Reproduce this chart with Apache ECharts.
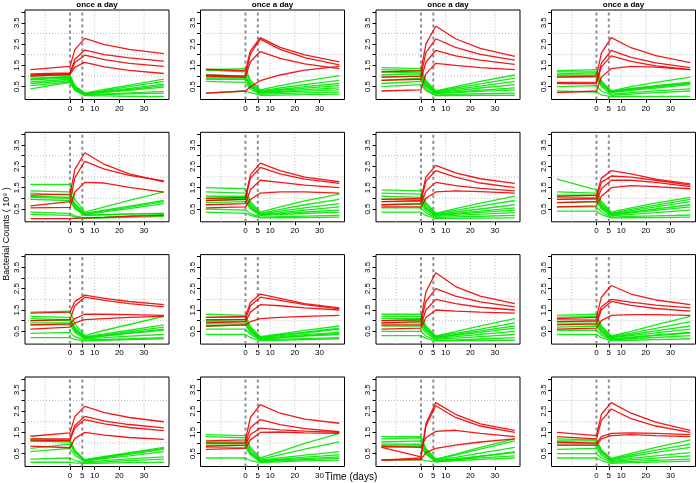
<!DOCTYPE html>
<html>
<head>
<meta charset="utf-8">
<script src="https://cdn.jsdelivr.net/npm/echarts@6/dist/echarts.min.js"></script>
<style>html,body{margin:0;padding:0;background:#fff;}#chart{width:696px;height:483px;}</style>
</head>
<body>
<div id="chart"></div>
<script>
// ---------- data ----------
const days = [-16, 0, 2, 6, 14, 24, 38];
const doseDays = [0, 5];
const xTickValues = [0, 5, 10, 20, 30];
const yTickValues = [0.5, 1, 1.5, 2, 2.5, 3, 3.5, 4];
const yLabelValues = [0.5, 1.5, 2.5, 3.5];
const xGridValues = [-10, 10, 20, 30];
const yGridValues = [1, 2, 3];
const panelTitle = 'once a day';
const xAxisName = 'Time (days)';
const yAxisName = 'Bacterial Counts ( 10\u2079 )';

const p1Red = [[1.3,1.45,2.24,2.77,2.48,2.25,2.05],[1.1,1.15,1.79,2.22,2.01,1.85,1.7],[1.05,1.12,1.64,1.98,1.77,1.6,1.45],[1.0,1.08,1.42,1.64,1.43,1.27,1.12]];
const p1Green = [[1.0,1.05,0.54,0.2,0.37,0.57,0.86],[0.9,0.95,0.49,0.18,0.32,0.5,0.75],[0.82,0.9,0.45,0.15,0.25,0.37,0.55],[0.73,0.85,0.42,0.14,0.23,0.33,0.48],[0.65,0.78,0.38,0.12,0.16,0.21,0.28],[0.55,0.72,0.35,0.1,0.13,0.16,0.2],[0.4,0.7,0.33,0.08,0.07,0.05,0.04],[0.85,1.0,0.5,0.16,0.28,0.42,0.62]];

const p2Red = [[1.32,1.25,2.18,2.8,2.35,1.99,1.67],[1.05,1.0,2.04,2.73,2.25,1.86,1.52],[1.0,0.95,1.67,2.15,1.83,1.57,1.35],[0.2,0.3,0.5,0.78,1.05,1.28,1.45]];
const p2Green = [[1.3,1.35,0.8,0.35,0.55,0.76,1.02],[1.28,1.2,0.7,0.3,0.44,0.6,0.8],[1.05,1.0,0.6,0.28,0.37,0.5,0.65],[0.95,0.95,0.55,0.25,0.33,0.43,0.55],[0.9,0.9,0.5,0.22,0.28,0.36,0.45],[0.85,0.85,0.47,0.2,0.24,0.29,0.35],[0.75,0.7,0.38,0.15,0.18,0.21,0.25],[0.2,0.3,0.22,0.1,0.11,0.13,0.15]];

const p3Red = [[1.2,1.25,2.5,3.35,2.75,2.3,1.92],[0.95,1.0,2.1,2.75,2.35,2.02,1.75],[0.8,0.85,1.65,2.2,1.95,1.75,1.55],[0.3,0.35,1.1,1.6,1.5,1.4,1.3]];
const p3Green = [[1.4,1.35,0.8,0.3,0.5,0.75,1.05],[1.3,1.25,0.72,0.28,0.44,0.63,0.9],[1.2,1.15,0.65,0.25,0.38,0.53,0.75],[1.05,1.1,0.62,0.22,0.32,0.44,0.6],[0.95,1.0,0.55,0.2,0.26,0.34,0.45],[0.8,0.9,0.5,0.18,0.22,0.28,0.35],[0.65,0.75,0.4,0.12,0.14,0.17,0.2],[0.5,0.6,0.32,0.08,0.08,0.09,0.1]];

const p4Red = [[0.95,1.0,2.08,2.8,2.33,1.96,1.63],[0.7,0.72,1.61,2.2,1.88,1.62,1.4],[0.65,0.65,1.43,1.95,1.69,1.48,1.3],[0.22,0.3,0.95,1.35,1.45,1.42,1.3]];
const p4Green = [[1.25,1.3,0.78,0.3,0.5,0.7,0.95],[1.2,1.2,0.7,0.28,0.42,0.55,0.72],[1.1,1.15,0.68,0.27,0.4,0.52,0.68],[1.05,1.05,0.62,0.25,0.37,0.49,0.65],[1.0,1.0,0.58,0.22,0.33,0.44,0.6],[0.95,0.95,0.5,0.15,0.22,0.3,0.4],[0.5,0.55,0.3,0.1,0.15,0.22,0.3],[0.3,0.25,0.12,0.03,0.04,0.04,0.05]];

const p5Red = [[1.15,1.2,2.36,3.14,2.59,2.15,1.77],[0.65,0.85,1.98,2.74,2.37,2.08,1.82],[0.55,0.58,1.3,1.75,1.72,1.52,1.29],[0.05,0.05,0.06,0.08,0.11,0.15,0.2]];
const p5Green = [[1.65,1.65,0.95,0.35,0.6,0.9,1.3],[1.35,1.3,0.75,0.3,0.45,0.64,0.9],[1.25,1.15,0.68,0.27,0.41,0.58,0.85],[1.05,1.0,0.6,0.25,0.37,0.52,0.75],[0.95,0.9,0.5,0.2,0.23,0.26,0.3],[0.35,0.3,0.18,0.08,0.12,0.18,0.25],[0.25,0.2,0.12,0.05,0.08,0.11,0.15],[1.1,1.05,0.55,0.22,0.24,0.27,0.3]];

const p6Red = [[1.0,1.05,2.1,2.65,2.3,2.0,1.78],[0.9,0.95,1.95,2.45,2.15,1.9,1.7],[0.7,0.75,1.4,1.85,1.75,1.62,1.5],[0.55,0.6,0.95,1.25,1.3,1.3,1.25]];
const p6Green = [[1.5,1.45,0.85,0.35,0.6,0.88,1.2],[1.3,1.25,0.75,0.3,0.48,0.7,0.95],[1.1,1.1,0.65,0.27,0.4,0.55,0.75],[1.0,1.0,0.58,0.24,0.33,0.45,0.6],[0.9,0.95,0.55,0.22,0.28,0.36,0.45],[0.8,0.85,0.5,0.2,0.24,0.29,0.35],[0.5,0.45,0.28,0.12,0.14,0.17,0.2],[0.35,0.3,0.2,0.08,0.09,0.1,0.12]];

const p7Red = [[0.95,1.0,2.0,2.55,2.2,1.92,1.7],[0.85,0.9,1.8,2.3,2.0,1.72,1.5],[0.7,0.75,1.35,1.75,1.6,1.47,1.35],[0.6,0.6,1.0,1.3,1.35,1.32,1.25]];
const p7Green = [[1.4,1.35,0.8,0.3,0.52,0.78,1.1],[1.25,1.2,0.72,0.28,0.44,0.64,0.9],[1.1,1.05,0.62,0.25,0.36,0.5,0.7],[0.95,0.95,0.55,0.22,0.3,0.4,0.55],[0.85,0.85,0.5,0.2,0.26,0.34,0.45],[0.7,0.72,0.42,0.15,0.2,0.26,0.33],[0.55,0.55,0.32,0.1,0.13,0.16,0.2],[0.35,0.35,0.2,0.05,0.06,0.07,0.08]];

const p8Red = [[1.1,1.15,1.95,2.3,2.15,1.9,1.68],[0.95,1.0,1.75,2.05,2.0,1.85,1.62],[0.8,0.85,1.45,1.85,1.85,1.75,1.55],[0.6,0.65,1.1,1.5,1.6,1.55,1.45]];
const p8Green = [[1.9,1.4,0.85,0.35,0.55,0.78,1.05],[1.3,1.25,0.75,0.3,0.48,0.68,0.95],[1.15,1.15,0.68,0.27,0.42,0.6,0.85],[1.05,1.05,0.62,0.24,0.36,0.5,0.7],[0.95,0.95,0.56,0.22,0.32,0.44,0.6],[0.8,0.85,0.5,0.18,0.25,0.33,0.45],[0.6,0.6,0.36,0.12,0.15,0.18,0.22],[0.4,0.4,0.24,0.08,0.09,0.1,0.12]];

const p9Red = [[1.35,1.4,1.9,2.2,2.05,1.9,1.75],[1.0,1.05,1.7,2.1,1.95,1.8,1.65],[0.8,0.85,1.1,1.3,1.3,1.28,1.25],[0.6,0.7,0.9,1.05,1.1,1.15,1.2]];
const p9Green = [[1.4,1.45,0.85,0.3,0.55,0.82,1.2],[1.2,1.15,0.68,0.25,0.38,0.55,0.8],[1.0,1.0,0.6,0.22,0.33,0.48,0.7],[0.9,0.9,0.52,0.2,0.28,0.4,0.55],[0.8,0.8,0.45,0.15,0.2,0.27,0.35],[0.4,0.45,0.25,0.1,0.12,0.15,0.2],[0.2,0.2,0.12,0.05,0.08,0.11,0.15],[1.1,1.05,0.6,0.2,0.3,0.43,0.6]];

const p10Red = [[1.15,1.2,1.85,2.25,2.05,1.8,1.6],[1.05,1.05,1.7,2.1,1.95,1.75,1.55],[0.9,0.95,1.4,1.75,1.7,1.6,1.5],[0.75,0.8,0.95,1.1,1.15,1.2,1.25]];
const p10Green = [[1.3,1.25,0.72,0.25,0.38,0.54,0.75],[1.15,1.15,0.66,0.22,0.33,0.46,0.65],[1.0,1.05,0.6,0.2,0.3,0.42,0.6],[0.95,0.95,0.54,0.18,0.25,0.34,0.45],[0.85,0.85,0.48,0.15,0.2,0.27,0.35],[0.6,0.6,0.35,0.1,0.13,0.16,0.2],[0.35,0.35,0.2,0.05,0.08,0.11,0.15],[0.75,0.8,0.45,0.12,0.2,0.3,0.4]];

const p11Red = [[1.0,1.05,2.35,3.25,2.6,2.15,1.8],[0.9,0.95,1.9,2.5,2.15,1.88,1.65],[0.8,0.8,1.5,2.0,1.8,1.63,1.5],[0.6,0.65,1.15,1.5,1.45,1.4,1.35]];
const p11Green = [[1.3,1.3,0.75,0.28,0.48,0.75,1.1],[1.2,1.2,0.7,0.25,0.4,0.6,0.9],[1.1,1.1,0.64,0.22,0.35,0.52,0.75],[1.0,1.0,0.58,0.2,0.31,0.45,0.65],[0.9,0.9,0.52,0.17,0.25,0.36,0.5],[0.75,0.75,0.42,0.13,0.18,0.25,0.35],[0.5,0.5,0.28,0.08,0.1,0.14,0.2],[0.3,0.3,0.17,0.05,0.06,0.07,0.08]];

const p12Red = [[1.1,1.15,2.1,2.65,2.25,1.97,1.75],[0.95,1.0,1.65,2.0,1.87,1.73,1.6],[0.8,0.85,1.5,1.9,1.72,1.57,1.45],[0.6,0.65,1.0,1.25,1.28,1.28,1.25]];
const p12Green = [[1.25,1.3,0.75,0.28,0.5,0.8,1.2],[1.15,1.2,0.7,0.25,0.42,0.64,0.95],[1.05,1.05,0.62,0.22,0.35,0.52,0.75],[0.95,0.95,0.55,0.2,0.3,0.43,0.6],[0.85,0.85,0.48,0.15,0.23,0.33,0.45],[0.55,0.55,0.32,0.1,0.15,0.21,0.3],[0.35,0.35,0.2,0.05,0.08,0.11,0.15],[0.7,0.75,0.42,0.12,0.2,0.3,0.42]];

const p13Red = [[1.32,1.48,2.25,2.72,2.43,2.2,2.0],[1.2,1.2,1.82,2.25,2.03,1.87,1.71],[1.1,1.12,1.72,2.1,1.9,1.73,1.58],[0.86,0.78,1.22,1.5,1.37,1.26,1.17]];
const p13Green = [[1.2,1.15,0.65,0.22,0.37,0.55,0.8],[1.15,1.1,0.62,0.2,0.34,0.51,0.75],[1.1,1.05,0.6,0.18,0.31,0.47,0.7],[0.75,0.95,0.55,0.16,0.27,0.4,0.6],[0.6,0.75,0.42,0.12,0.18,0.26,0.35],[0.25,0.3,0.18,0.08,0.12,0.18,0.25],[0.1,0.1,0.07,0.04,0.06,0.08,0.1]];

const p14Red = [[1.1,1.15,2.2,2.8,2.4,2.12,1.93],[1.0,1.0,1.72,2.1,1.87,1.68,1.53],[0.85,0.9,1.4,1.7,1.62,1.56,1.5],[0.7,0.75,1.15,1.5,1.52,1.48,1.45]];
const p14Green = [[1.4,1.35,0.8,0.3,0.6,0.98,1.46],[1.3,1.25,0.72,0.25,0.45,0.72,1.06],[1.05,1.05,0.6,0.2,0.3,0.43,0.6],[1.0,1.0,0.56,0.17,0.25,0.34,0.45],[0.9,0.9,0.5,0.15,0.21,0.27,0.35],[0.8,0.8,0.45,0.12,0.17,0.22,0.28],[0.3,0.3,0.18,0.08,0.12,0.16,0.2]];

const p15Red = [[0.2,0.3,1.9,2.9,2.35,1.9,1.6],[0.8,0.35,1.8,2.75,2.2,1.8,1.5],[0.85,0.8,1.25,1.55,1.6,1.45,1.3],[0.2,0.22,0.55,0.75,0.9,1.05,1.2]];
const p15Green = [[1.3,1.3,0.75,0.25,0.48,0.8,1.2],[1.2,1.25,0.7,0.22,0.43,0.72,1.1],[1.05,1.1,0.62,0.2,0.33,0.53,0.8],[0.95,0.95,0.55,0.17,0.26,0.38,0.55],[0.9,0.9,0.5,0.15,0.22,0.3,0.4],[0.8,0.85,0.47,0.12,0.17,0.23,0.3],[0.2,0.22,0.18,0.12,0.22,0.38,0.6]];

const p16Red = [[1.5,1.35,2.35,2.9,2.4,1.98,1.6],[1.3,1.2,2.05,2.6,2.15,1.8,1.5],[1.05,1.0,1.3,1.45,1.48,1.45,1.4],[0.9,0.9,1.2,1.35,1.4,1.35,1.3]];
const p16Green = [[1.2,1.15,0.68,0.28,0.52,0.8,1.15],[1.1,1.1,0.64,0.25,0.44,0.67,0.95],[1.0,1.0,0.58,0.22,0.37,0.56,0.8],[0.9,0.9,0.52,0.18,0.28,0.4,0.55],[0.7,0.75,0.43,0.14,0.21,0.29,0.4],[0.5,0.5,0.3,0.1,0.14,0.19,0.25],[0.3,0.3,0.18,0.05,0.08,0.11,0.15]];

const panels = [
  [p1Red, p1Green], [p2Red, p2Green], [p3Red, p3Green], [p4Red, p4Green],
  [p5Red, p5Green], [p6Red, p6Green], [p7Red, p7Green], [p8Red, p8Green],
  [p9Red, p9Green], [p10Red, p10Green], [p11Red, p11Green], [p12Red, p12Green],
  [p13Red, p13Green], [p14Red, p14Green], [p15Red, p15Green], [p16Red, p16Green]
];

// ---------- layout / style ----------
const X_MIN = -18.2, X_MAX = 40.1, Y_MIN = -0.1, Y_MAX = 4.1;
const colLeft = [25, 200.5, 376, 551.5];
const rowTop = [10, 132.3, 254.6, 377];
const W = 144, H = 89.5;
const FONT = 'Liberation Sans, Arial, Helvetica, sans-serif';
const RED = '#f00000', GREEN = '#00e600';

const grid = [], xAxis = [], yAxis = [], series = [], graphic = [];

function toPts(vals) { return days.map((d, k) => [d, vals[k]]); }
function refLine(i, pts, style, z) {
  series.push({ type: 'line', xAxisIndex: i, yAxisIndex: i, data: pts, z: z, clip: true,
    showSymbol: false, silent: true, animation: false, lineStyle: style });
}

panels.forEach((p, i) => {
  const r = Math.floor(i / 4), c = i % 4;
  grid.push({ left: colLeft[c], top: rowTop[r], width: W, height: H, show: true,
    borderColor: '#000', borderWidth: 1, backgroundColor: 'transparent', containLabel: false });
  xAxis.push({
    type: 'value', gridIndex: i, min: X_MIN, max: X_MAX,
    axisLine: { show: false, onZero: false },
    axisTick: { show: true, customValues: xTickValues, length: 3.5, lineStyle: { color: '#000', width: 1 } },
    axisLabel: { show: true, customValues: xTickValues, fontSize: 8, color: '#000', margin: 5, fontFamily: FONT },
    splitLine: { show: false }
  });
  yAxis.push({
    type: 'value', gridIndex: i, min: Y_MIN, max: Y_MAX,
    axisLine: { show: false, onZero: false },
    axisTick: { show: true, customValues: yTickValues, length: 3.5, lineStyle: { color: '#000', width: 1 } },
    axisLabel: { show: true, customValues: yLabelValues, rotate: 90, fontSize: 8, color: '#000', margin: 4, fontFamily: FONT,
      formatter: v => v.toFixed(1) },
    splitLine: { show: false }
  });
  // dotted reference grid
  const gridStyle = { type: [1, 2], color: '#bdbdbd', width: 1 };
  xGridValues.forEach(v => refLine(i, [[v, Y_MIN], [v, Y_MAX]], gridStyle, 1));
  yGridValues.forEach(v => refLine(i, [[X_MIN, v], [X_MAX, v]], gridStyle, 1));
  // dose days (dashed grey)
  doseDays.forEach(v => refLine(i, [[v, Y_MIN], [v, Y_MAX]], { type: [3, 3], color: '#8e8e8e', width: 2 }, 2));
  p[1].forEach(vals => refLine(i, toPts(vals), { color: GREEN, width: 1.3, opacity: 0.9 }, 3));
  p[0].forEach(vals => refLine(i, toPts(vals), { color: RED, width: 1.3, opacity: 0.9 }, 4));
  if (r === 0) {
    graphic.push({ type: 'text', x: colLeft[c] + W / 2, y: 4.5, silent: true,
      style: { text: panelTitle, font: 'bold 8px ' + FONT, fill: '#000', align: 'center', verticalAlign: 'middle' } });
  }
});

graphic.push({ type: 'text', x: 351, y: 477, silent: true,
  style: { text: xAxisName, font: '10px ' + FONT, fill: '#000', align: 'center', verticalAlign: 'middle' } });
graphic.push({ type: 'text', x: 7, y: 234, rotation: Math.PI / 2, silent: true,
  style: { text: yAxisName, font: '9px ' + FONT, fill: '#000', align: 'center', verticalAlign: 'middle' } });

const chart = echarts.init(document.getElementById('chart'), null, { renderer: 'canvas' });
chart.setOption({
  animation: false,
  backgroundColor: '#fff',
  grid, xAxis, yAxis, series, graphic
});
</script>
</body>
</html>
